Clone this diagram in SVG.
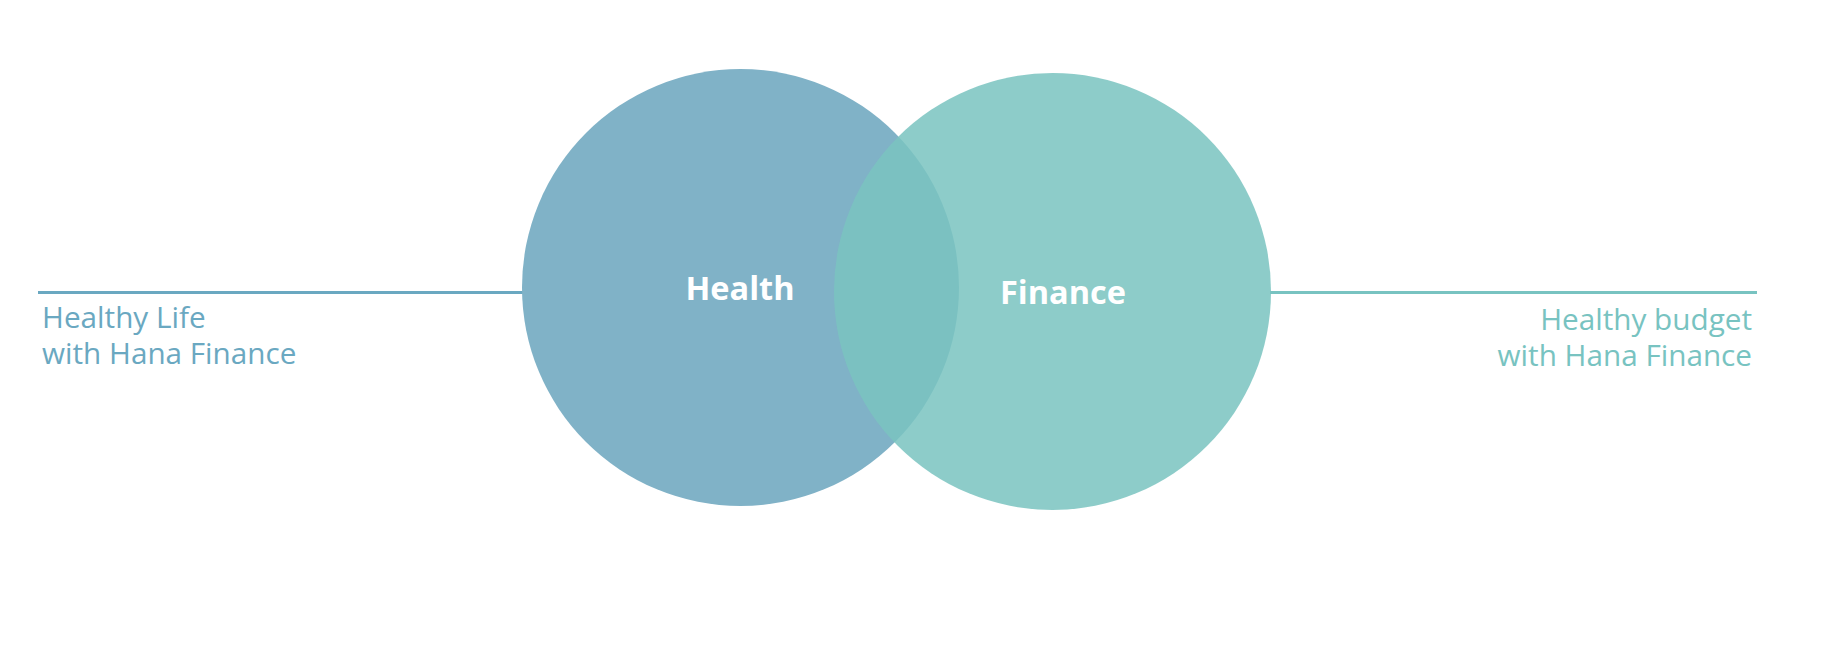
<svg xmlns="http://www.w3.org/2000/svg" width="1838" height="660" viewBox="0 0 1838 660">
<style>
.side{font-family:"Open Sans","Noto Sans",sans-serif;font-size:29.7px}
.lt{fill:#6aa8c1}
.rt{fill:#78c3c1}
.title{font-family:"Open Sans","Noto Sans",sans-serif;font-size:32.5px;font-weight:700;fill:#ffffff;text-anchor:middle}
</style>
<rect width="1838" height="660" fill="#ffffff"/>
<g id="connectors">
<line x1="38" y1="292.5" x2="524" y2="292.5" stroke="#6aa8c1" stroke-width="3"/>
<line x1="1270" y1="292.5" x2="1757" y2="292.5" stroke="#78c3c1" stroke-width="3"/>
</g>
<g id="health">
<circle cx="740.5" cy="287.5" r="218.5" fill="#80b2c7"/>
</g>
<g id="finance">
<circle cx="1052.5" cy="291.5" r="218.5" fill="#7ac4c0" fill-opacity="0.86"/>
</g>
<g id="labels">
<text class="title" x="740" y="300">Health</text>
<text class="title" x="1063" y="304">Finance</text>
</g>
<g id="left-note">
<text class="side lt" x="42" y="328">Healthy Life</text>
<text class="side lt" x="42" y="364">with Hana Finance</text>
</g>
<g id="right-note">
<text class="side rt" x="1752" y="330" text-anchor="end">Healthy budget</text>
<text class="side rt" x="1752" y="366" text-anchor="end">with Hana Finance</text>
</g>
</svg>
